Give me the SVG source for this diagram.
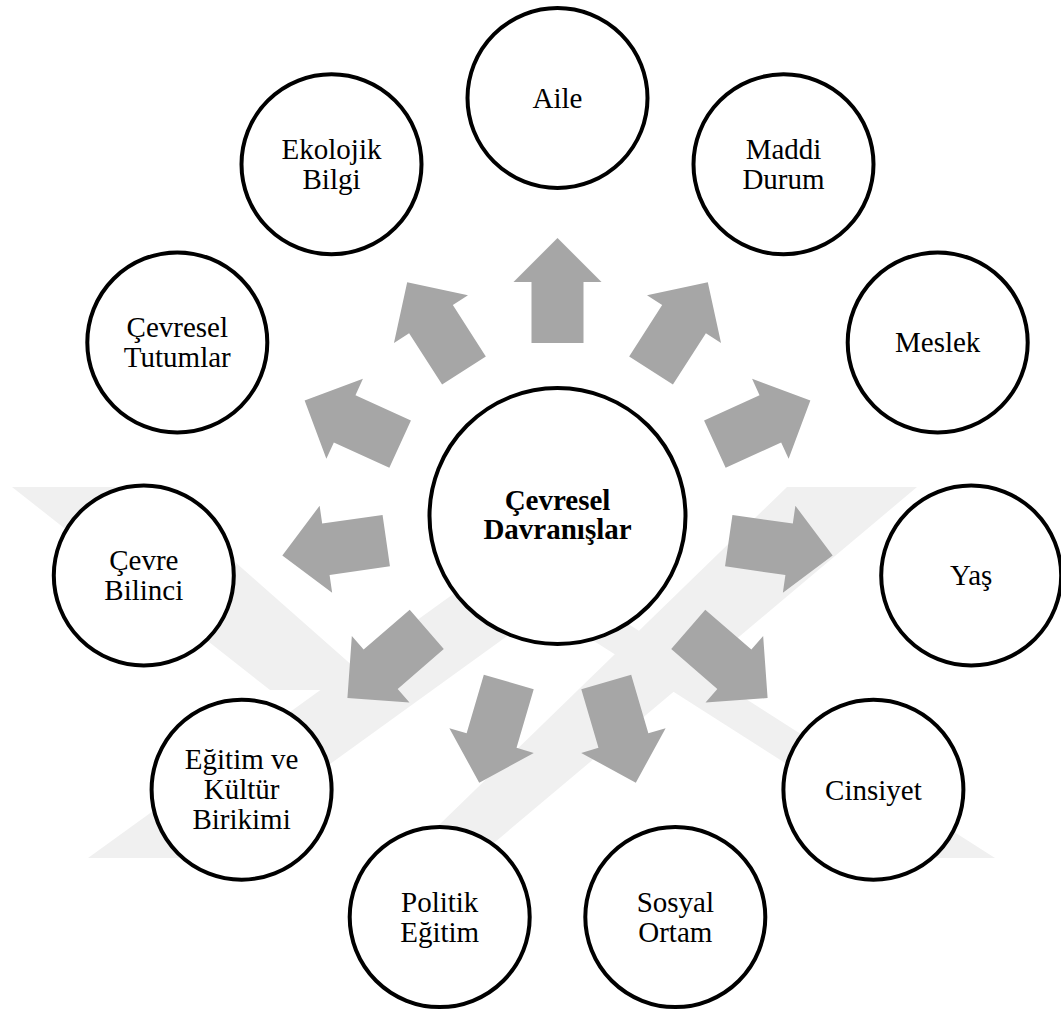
<svg xmlns="http://www.w3.org/2000/svg" width="1061" height="1014" viewBox="0 0 1061 1014">
<style>
.wm{fill:#f0f0f0}
.arr{fill:#a6a6a6}
.node{fill:#ffffff;stroke:#000000;stroke-width:4}
.t{font-family:"Liberation Serif","Times New Roman",serif;font-size:29px;fill:#000000;text-anchor:middle}
.b{font-weight:bold}
</style>
<defs>
<path id="arrow" d="M173,-26 H234 V-44 L278,0 L234,44 V26 H173 Z"/>
</defs>
<rect width="1061" height="1014" fill="#ffffff"/>
<g id="watermark">
<polygon class="wm" points="12,487 150,487 380,690 270,690"/>
<polygon class="wm" points="88,858 200,858 640,540 528,540"/>
<polygon class="wm" points="405,858 476,858 917,487 787,487"/>
<polygon class="wm" points="561,620 622,620 995,858 934,858"/>
</g>
<g id="connectors">
<use href="#arrow" class="arr" transform="translate(557.5,516) rotate(-90)"/>
<use href="#arrow" class="arr" transform="translate(557.5,516) rotate(-57.27)"/>
<use href="#arrow" class="arr" transform="translate(557.5,516) rotate(-24.55)"/>
<use href="#arrow" class="arr" transform="translate(557.5,516) rotate(8.18)"/>
<use href="#arrow" class="arr" transform="translate(557.5,516) rotate(40.91)"/>
<use href="#arrow" class="arr" transform="translate(557.5,516) rotate(73.64)"/>
<use href="#arrow" class="arr" transform="translate(557.5,516) rotate(106.36)"/>
<use href="#arrow" class="arr" transform="translate(557.5,516) rotate(139.09)"/>
<use href="#arrow" class="arr" transform="translate(557.5,516) rotate(171.82)"/>
<use href="#arrow" class="arr" transform="translate(557.5,516) rotate(204.55)"/>
<use href="#arrow" class="arr" transform="translate(557.5,516) rotate(237.27)"/>
</g>
<g id="center">
<circle class="node" cx="557.5" cy="516" r="128"/>
<text class="t b" x="557.5" y="510">Çevresel</text>
<text class="t b" x="557.5" y="539">Davranışlar</text>
</g>
<g id="aile">
<circle class="node" cx="557.5" cy="98" r="90"/>
<text class="t" x="557.5" y="108">Aile</text>
</g>
<g id="maddi-durum">
<circle class="node" cx="783.5" cy="164.3" r="90"/>
<text class="t" x="783.5" y="159">Maddi</text>
<text class="t" x="783.5" y="189">Durum</text>
</g>
<g id="meslek">
<circle class="node" cx="937.7" cy="342.4" r="90"/>
<text class="t" x="937.7" y="352">Meslek</text>
</g>
<g id="yas">
<circle class="node" cx="971.2" cy="575.5" r="90"/>
<text class="t" x="971.2" y="585">Yaş</text>
</g>
<g id="cinsiyet">
<circle class="node" cx="873.4" cy="789.7" r="90"/>
<text class="t" x="873.4" y="800">Cinsiyet</text>
</g>
<g id="sosyal-ortam">
<circle class="node" cx="675.3" cy="917.1" r="90"/>
<text class="t" x="675.3" y="912">Sosyal</text>
<text class="t" x="675.3" y="942">Ortam</text>
</g>
<g id="politik-egitim">
<circle class="node" cx="439.7" cy="917.1" r="90"/>
<text class="t" x="439.7" y="912">Politik</text>
<text class="t" x="439.7" y="942">Eğitim</text>
</g>
<g id="egitim-kultur">
<circle class="node" cx="241.6" cy="789.7" r="90"/>
<text class="t" x="241.6" y="769">Eğitim ve</text>
<text class="t" x="241.6" y="799">Kültür</text>
<text class="t" x="241.6" y="829">Birikimi</text>
</g>
<g id="cevre-bilinci">
<circle class="node" cx="143.8" cy="575.5" r="90"/>
<text class="t" x="143.8" y="570">Çevre</text>
<text class="t" x="143.8" y="600">Bilinci</text>
</g>
<g id="cevresel-tutumlar">
<circle class="node" cx="177.3" cy="342.4" r="90"/>
<text class="t" x="177.3" y="337">Çevresel</text>
<text class="t" x="177.3" y="367">Tutumlar</text>
</g>
<g id="ekolojik-bilgi">
<circle class="node" cx="331.5" cy="164.3" r="90"/>
<text class="t" x="331.5" y="159">Ekolojik</text>
<text class="t" x="331.5" y="189">Bilgi</text>
</g>
</svg>
